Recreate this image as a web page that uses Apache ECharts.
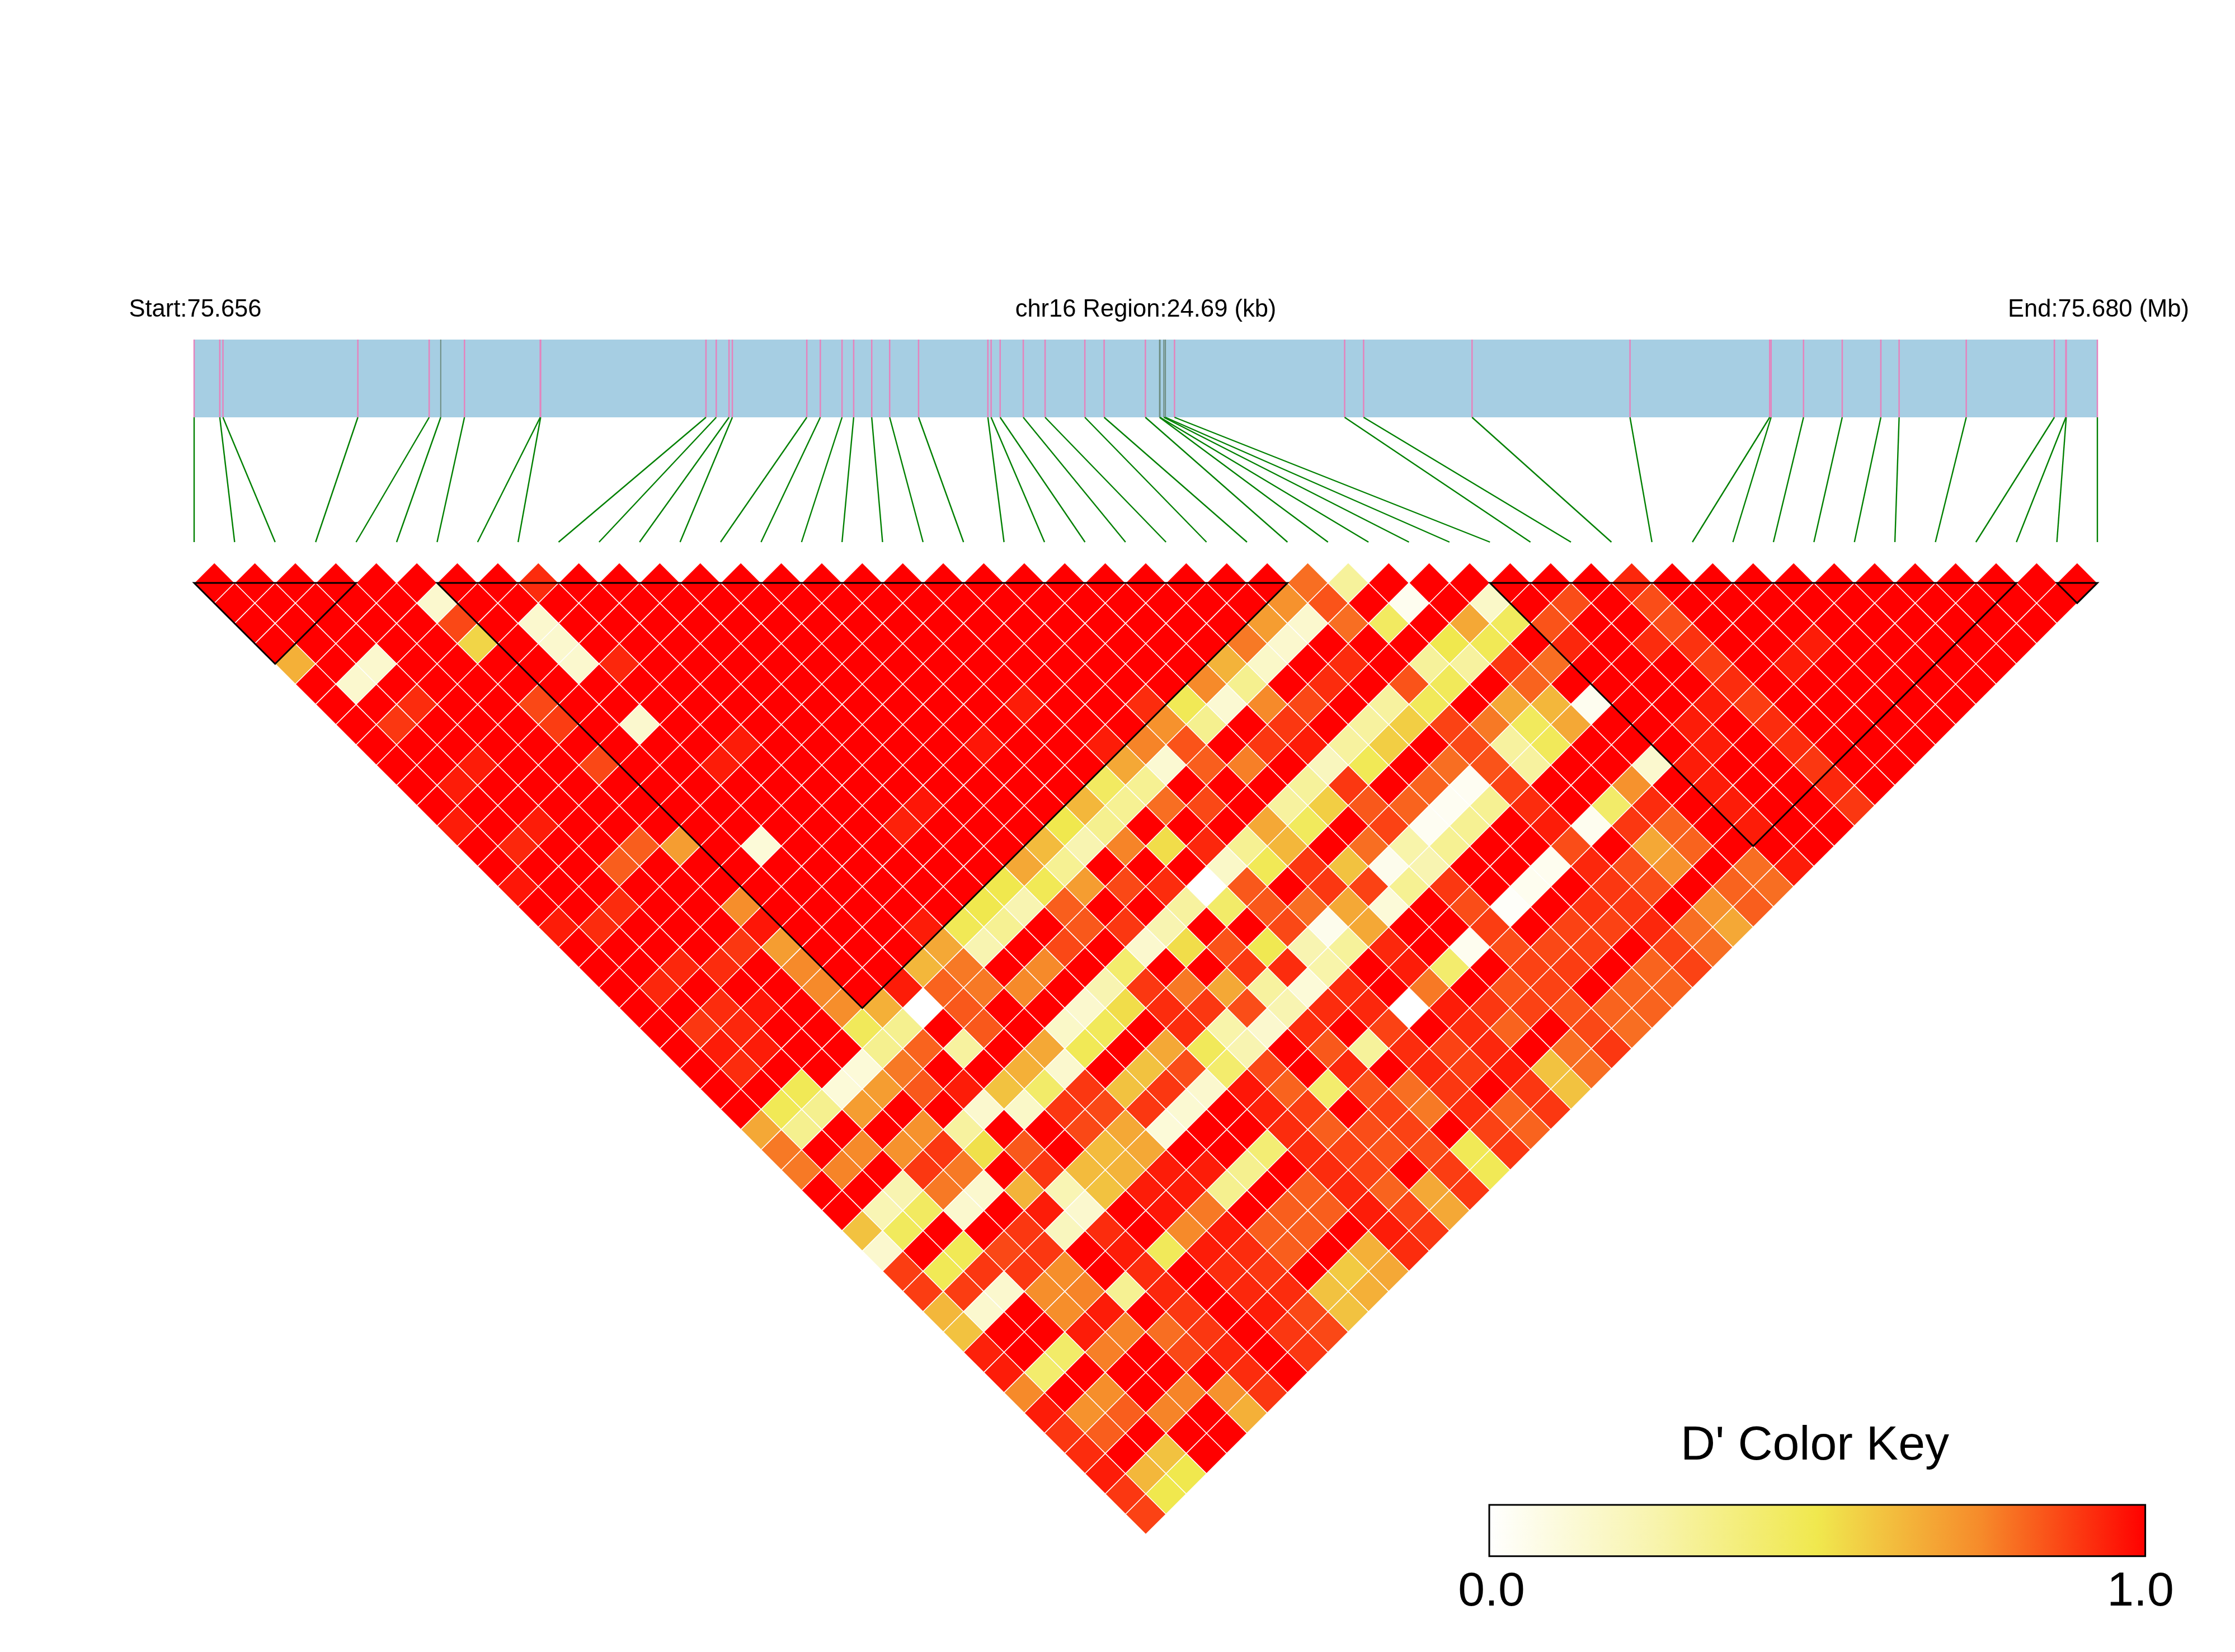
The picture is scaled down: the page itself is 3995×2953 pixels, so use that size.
<!DOCTYPE html>
<html><head><meta charset="utf-8">
<style>html,body{margin:0;padding:0;background:#fff}#c{width:3995px;height:2953px}</style>
<script src="https://cdn.jsdelivr.net/npm/echarts@6/dist/echarts.min.js"></script>
</head><body><div id="c"></div>
<script>
// D' x 100 for SNP pairs, one list per SNP distance (lag), left to right
const lag1=[100,100,100,100,100,100,100,100,92,100, 100,100,100,100,100,100,100,100,100,100, 100,100,100,100,100,100,100,80,30,100, 100,100,100,100,100,93,100,100,100,100, 100,100,100,100,100,100,100];
const lag2=[100,100,100,100,100,15,100,100,100,100, 100,100,100,100,100,100,100,100,100,100, 100,100,100,100,100,100,73,85,100,5, 100,17,100,86,100,86,100,100,100,100, 100,100,100,100,100,100];
const lag3=[100,100,100,100,100,87,100,15,100,100, 100,100,100,100,100,100,100,100,100,100, 100,100,100,100,100,70,15,80,45,100, 67,46,85,100,100,86,100,100,100,100, 100,100,100,100,100];
const lag4=[100,100,100,100,100,55,100,15,100,100, 100,100,100,100,100,100,100,100,100,100, 100,100,100,100,78,15,100,100,100,50, 48,100,93,100,92,91,100,100,95,100, 100,100,100,100];
const lag5=[65,100,15,100,100,100,100,15,93,100, 100,100,100,100,100,100,100,100,100,100, 100,100,100,64,17,100,92,100,30,29, 90,80,100,100,100,89,100,95,100,100, 100,100,100];
const lag6=[100,15,100,100,100,100,100,100,100,100, 100,100,100,100,100,100,100,100,100,100, 100,100,75,33,100,92,100,85,47,100, 82,100,100,100,100,92,100,100,100,100, 100,100];
const lag7=[100,100,92,100,100,87,100,100,100,100, 100,100,100,100,100,100,100,95,100,100, 92,48,14,75,87,100,29,47,100,67, 63,5,100,100,95,89,100,100,100,100, 100];
const lag8=[100,90,100,100,100,89,100,15,100,100, 100,100,100,100,100,100,100,100,100,100, 73,33,100,90,100,29,57,88,78,46, 67,100,100,95,100,92,100,100,100,100];
const lag9=[100,100,100,100,100,100,100,100,100,95, 100,100,100,100,100,96,100,100,95,76, 85,100,90,95,29,57,100,87,29,47, 100,100,100,95,100,92,100,100,100];
const lag10=[100,100,95,100,100,87,100,100,95,100, 100,100,100,100,100,100,100,100,67,14, 83,77,100,20,48,100,80,85,29,100, 100,15,95,100,100,90,100,100];
const lag11=[100,95,100,100,100,100,100,100,100,100, 100,100,100,100,100,100,100,45,32,100, 100,100,30,90,100,82,4,88,100,100, 73,100,95,100,100,93,100];
const lag12=[100,100,100,100,100,100,100,100,100,100, 100,100,96,100,100,100,63,32,80,87, 100,29,57,84,82,4,32,92,100,43, 92,100,95,100,100,90];
const lag13=[95,100,95,100,100,100,100,100,100,100, 100,94,100,100,100,50,33,100,100,100, 67,46,100,88,4,32,100,95,5,90, 82,100,95,100,100];
const lag14=[100,93,100,100,83,70,100,12,100,100, 100,100,100,100,62,24,76,53,93,32, 63,100,80,26,32,100,100,86,100,67, 82,100,100,100];
const lag15=[100,100,100,83,100,100,100,100,100,100, 100,100,100,67,32,100,100,100,17,48, 90,60,6,24,100,100,5,93,86,73, 100,80,95];
const lag16=[96,100,100,100,100,100,100,100,100,100, 100,100,50,48,70,87,92,0,84,100, 90,88,32,90,100,5,100,90,86,100, 82,80];
const lag17=[100,100,92,100,100,74,100,100,100,100, 100,50,24,83,100,100,29,43,84,80, 67,12,100,86,2,100,91,90,100,73, 83];
const lag18=[95,92,100,100,100,96,100,100,100,95, 48,32,100,84,90,24,100,100,87,6, 67,100,100,89,100,88,88,93,80,67];
const lag19=[100,100,100,100,90,70,100,100,100,67, 24,100,87,100,15,53,85,49,24,30, 93,100,5,86,87,88,100,88,80];
const lag20=[100,100,93,92,100,75,100,100,63,78, 100,75,100,42,100,100,90,92,26,100, 95,42,100,88,89,100,82,88];
const lag21=[100,93,100,100,100,75,100,95,82,78, 75,100,24,90,78,67,29,12,92,100, 78,100,85,88,100,82,82];
const lag22=[100,100,92,96,100,74,65,0,84,100, 100,15,53,92,90,86,24,92,93,0, 95,90,88,85,82,82];
const lag23=[100,90,93,100,100,47,33,100,84,100, 17,47,100,92,26,15,92,100,88,100, 92,82,100,87,80];
const lag24=[100,95,95,100,100,33,82,29,100,67, 48,100,67,47,24,100,84,30,92,88, 93,100,80,90];
const lag25=[100,92,100,100,12,78,100,100,65,15, 100,60,86,42,87,100,93,100,93,89, 95,60,80];
const lag26=[100,100,48,12,70,84,95,60,43,90, 60,90,15,96,82,42,85,80,90,100, 90,60];
const lag27=[100,48,33,70,100,100,15,17,90,87, 90,14,100,94,89,100,88,78,92,82, 90];
const lag28=[67,33,100,100,73,29,100,100,87,67, 12,100,100,92,83,86,88,100,88,82];
const lag29=[78,100,75,73,90,52,84,100,62,67, 100,100,40,92,88,85,86,48,90];
const lag30=[78,76,100,90,78,100,90,62,64,95, 95,33,100,92,88,100,89,48];
const lag31=[100,100,24,78,15,64,23,60,95,95, 33,100,83,93,82,67,90];
const lag32=[100,23,45,15,100,95,15,100,96,78, 100,83,83,95,88,67];
const lag33=[60,46,100,100,90,20,92,100,75,95, 83,83,100,95,90];
const lag34=[15,100,48,87,90,100,95,47,95,92, 83,100,65,92];
const lag35=[89,48,90,90,74,100,92,100,92,90, 100,58,67];
const lag36=[89,89,15,74,76,32,93,100,93,92, 60,65];
const lag37=[63,15,100,74,95,100,90,100,95,87, 60];
const lag38=[60,100,100,95,76,80,90,100,90,87];
const lag39=[94,100,43,77,100,87,93,100,90];
const lag40=[95,42,100,100,100,100,92,100];
const lag41=[75,100,74,100,76,73,90];
const lag42=[95,73,83,76,100,65];
const lag43=[90,83,100,100,100];
const lag44=[92,100,60,100];
const lag45=[95,63,50];
const lag46=[90,50];
const lag47=[88];
const lags=[lag1,lag2,lag3,lag4,lag5,lag6,lag7,lag8,lag9,lag10,lag11,lag12,lag13,lag14,lag15,lag16,lag17,lag18,lag19,lag20,lag21,lag22,lag23,lag24,lag25,lag26,lag27,lag28,lag29,lag30,lag31,lag32,lag33,lag34,lag35,lag36,lag37,lag38,lag39,lag40,lag41,lag42,lag43,lag44,lag45,lag46,lag47];

// SNP positions along the region, kb from the start
const snpPos=[0,.333,.374,2.124,3.049,3.199,3.507,4.49,4.495,6.64,6.773,6.939,6.982,7.948,8.123,8.405,8.556,8.79,9.023,9.398,10.297,10.339,10.456,10.756,11.039,11.555,11.805,12.34,12.524,12.53,12.58,12.6,12.718,14.925,15.171,16.578,18.627,20.439,20.457,20.878,21.38,21.881,22.118,22.989,24.132,24.281,24.286,24.69];
const greySnps=[5,28,29,30,31];
const regionKb=24.69;
// LD blocks as first and last SNP
const blocks=[[0,4],[6,27],[32,45],[46,47]];
const keyRange=[0,1];
const rampStops=['#FFFFFF','#F8F4AE','#F0E84E','#F68A2A','#FF0000'];

const FONT='"Liberation Sans",Arial,sans-serif';
const nSnp=snpPos.length;
const cells=[];
lags.forEach((row,n)=>{const d=n+1;row.forEach((v,k)=>cells.push([(d+2*k)/2,d,v/100]));});
const TRACK_END=(969-607)/139;

const chart=echarts.init(document.getElementById('c'),null,{renderer:'canvas',width:3995,height:2953});
const line=(a,b,stroke,w)=>({type:'line',shape:{x1:a[0],y1:a[1],x2:b[0],y2:b[1]},style:{stroke:stroke,lineWidth:w}});
const label=(x,y,text,size)=>({type:'text',z:10,style:{x:x,y:y,text:text,fill:'#000',font:size+'px '+FONT,textAlign:'center',textVerticalAlign:'middle'}});
chart.setOption({
 backgroundColor:'#fff',animation:false,
 grid:[
  {left:347,width:3402,top:1005.8,height:1737.1},
  {left:347,width:3402,top:607,height:362},
  {left:2662,width:1172.6,top:2690,height:91.7}
 ],
 xAxis:[
  {gridIndex:0,type:'value',min:0,max:nSnp-1,show:false},
  {gridIndex:1,type:'value',min:0,max:regionKb,show:false},
  {gridIndex:2,type:'value',min:0,max:1,show:false}
 ],
 yAxis:[
  {gridIndex:0,type:'value',min:0,max:nSnp,inverse:true,show:false},
  {gridIndex:1,type:'value',min:0,max:TRACK_END,inverse:true,show:false},
  {gridIndex:2,type:'value',min:0,max:1,show:false}
 ],
 series:[
  {type:'custom',xAxisIndex:1,yAxisIndex:1,z:1,silent:true,data:[[0,regionKb]],clip:false,
   renderItem:(p,api)=>{const a=api.coord([api.value(0),0]),b=api.coord([api.value(1),1]);
    return {type:'rect',shape:{x:a[0],y:a[1],width:b[0]-a[0],height:b[1]-a[1]},style:{fill:'#A6CEE3'}};}},
  {type:'custom',xAxisIndex:1,yAxisIndex:1,z:2,silent:true,progressive:0,clip:false,
   data:snpPos.map((v,i)=>[v,i]),
   renderItem:(p,api)=>{const v=api.value(0),i=api.value(1);
    return {type:'group',children:[
     line(api.coord([v,0]),api.coord([v,1]),greySnps.includes(i)?'#6E8C80':'#E583BD',greySnps.includes(i)?2:2.5),
     line(api.coord([v,1]),api.coord([i*regionKb/(nSnp-1),TRACK_END]),'#008000',2.4)]};}},
  {type:'custom',xAxisIndex:0,yAxisIndex:0,z:3,silent:true,progressive:0,clip:false,data:cells,
   renderItem:(p,api)=>{const x=api.value(0),y=api.value(1),v=api.value(2);
    const pts=[[x-.5,y],[x,y-1],[x+.5,y],[x,y+1]].map(q=>api.coord(q));
    return {type:'polygon',shape:{points:pts},style:{fill:echarts.color.lerp(v,rampStops),stroke:'#fff',lineWidth:1.5}};}},
  {type:'custom',xAxisIndex:0,yAxisIndex:0,z:4,silent:true,clip:false,progressive:0,data:blocks,
   renderItem:(p,api)=>{const s=api.value(0),e=api.value(1);
    const pts=[[s,1],[e,1],[(s+e)/2,1+e-s]].map(q=>api.coord(q));
    return {type:'polygon',shape:{points:pts},style:{fill:'none',stroke:'#000',lineWidth:3,lineJoin:'miter'}};}},
  {type:'custom',xAxisIndex:2,yAxisIndex:2,z:5,silent:true,clip:false,data:[keyRange],
   renderItem:(p,api)=>{const a=api.coord([api.value(0),1]),b=api.coord([api.value(1),0]);
    return {type:'rect',shape:{x:a[0],y:a[1],width:b[0]-a[0],height:b[1]-a[1]},
     style:{fill:new echarts.graphic.LinearGradient(0,0,1,0,rampStops.map((c,i)=>({offset:i/(rampStops.length-1),color:c}))),stroke:'#000',lineWidth:3}};}}
 ],
 graphic:[
  label(349,554,'Start:75.656',43.5),
  label(2048,554,'chr16 Region:24.69 (kb)',43.5),
  label(3751,554,'End:75.680 (Mb)',43.5),
  label(3244,2585,"D' Color Key",86),
  label(2666,2846,keyRange[0].toFixed(1),86),
  label(3826,2846,keyRange[1].toFixed(1),86)
 ]
});
</script></body></html>
